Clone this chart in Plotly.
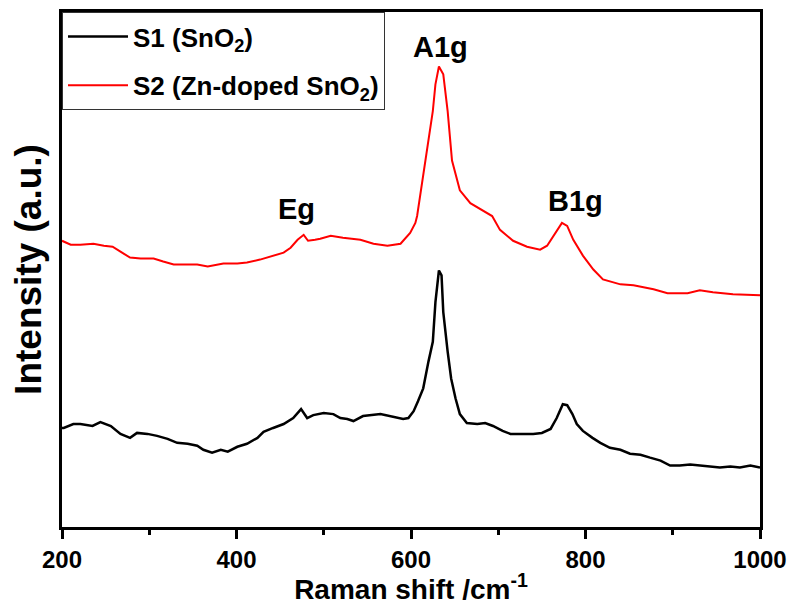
import plotly.graph_objects as go

# ---------------- data ----------------
s1_shift = [200, 202, 213, 221, 235, 244, 256, 267, 278, 286, 298, 309, 321, 332, 344, 355,
            362, 372, 382, 390, 401, 412, 424, 431, 442, 454, 465, 474, 481, 488, 500, 511,
            519, 527, 534, 545, 565, 580, 591, 597, 603, 608, 614, 620, 625, 628, 631, 632,
            635, 637, 642, 646, 651, 656, 664, 676, 685, 694, 705, 714, 725, 740, 750, 760,
            767, 774, 779, 785, 790, 797, 808, 817, 828, 840, 851, 863, 874, 886, 897, 908,
            920, 931, 943, 954, 966, 977, 989, 1000]
s1_intensity = [100, 100, 104, 104, 102, 106, 102, 94, 90, 95, 94, 92, 89, 85, 84, 82,
                78, 75, 78, 76, 81, 84, 90, 96, 100, 104, 110, 119, 110, 113, 115, 114,
                110, 109, 107, 112, 114, 111, 109, 110, 117, 127, 140, 167, 187, 227, 254, 259,
                254, 217, 177, 150, 130, 114, 105, 104, 105, 102, 97, 94, 94, 94, 95, 99,
                110, 124, 123, 114, 104, 97, 90, 85, 80, 78, 74, 73, 70, 67, 62, 62,
                63, 62, 61, 60, 61, 60, 62, 60]

s2_shift = [200, 210, 221, 236, 248, 258, 267, 278, 290, 305, 316, 328, 344, 355, 367, 374,
            385, 401, 412, 427, 442, 454, 462, 470, 477, 482, 490, 496, 508, 522, 542, 557,
            573, 588, 599, 605, 607, 614, 620, 625, 628, 632, 637, 642, 647, 656, 668, 683,
            693, 702, 717, 733, 748, 756, 763, 771, 773, 779, 786, 797, 809, 820, 840, 855,
            878, 894, 917, 931, 946, 969, 1000]
s2_intensity = [289, 285, 285, 286, 284, 283, 278, 272, 271, 271, 268, 265, 265, 265, 263, 264,
                266, 266, 267, 270, 274, 277, 282, 290, 295, 289, 290, 291, 294, 292, 290, 286,
                284, 286, 297, 307, 314, 354, 387, 420, 447, 465, 457, 420, 370, 340, 327, 319,
                314, 300, 289, 283, 280, 284, 294, 305, 307, 304, 290, 274, 260, 250, 245, 244,
                240, 236, 236, 239, 237, 235, 234]

series_names = ["S1 (SnO<sub>2</sub>)", "S2 (Zn-doped SnO<sub>2</sub>)"]
peak_labels = ["Eg", "A1g", "B1g"]
peak_label_shift = [469, 634, 788]
peak_label_intensity = [321, 485, 329]

x_ticks = [200, 400, 600, 800, 1000]
x_minor_ticks = [300, 500, 700, 900]

# ---------------- figure ----------------
FONT = "Liberation Sans, Arial, sans-serif"

fig = go.Figure()
fig.add_trace(go.Scatter(x=s1_shift, y=s1_intensity, mode="lines", name=series_names[0],
                         legendgroup="s1",
                         line=dict(color="black", width=2.5)))
fig.add_trace(go.Scatter(x=s2_shift, y=s2_intensity, mode="lines", name=series_names[1],
                         legendgroup="s2",
                         line=dict(color="#ff0000", width=2)))

for lab, xv, yv in zip(peak_labels, peak_label_shift, peak_label_intensity):
    fig.add_annotation(x=xv, y=yv, text=lab, showarrow=False,
                       font=dict(family=FONT, size=29, color="black", weight="bold"))

fig.update_layout(
    width=781, height=597,
    margin=dict(l=54, r=29, t=1, b=78),
    plot_bgcolor="white", paper_bgcolor="white",
    font=dict(family=FONT, color="black"),
    showlegend=True,
    legend=dict(x=0, y=1, xanchor="left", yanchor="top",
                bgcolor="white", bordercolor="#333333", borderwidth=1,
                font=dict(family=FONT, size=26, color="black", weight="bold"),
                itemwidth=60, tracegroupgap=12),
    xaxis=dict(range=[200, 1000], tickvals=x_ticks, ticks="outside", ticklen=9,
               tickwidth=3, tickcolor="black", showline=True, linewidth=3,
               linecolor="black", mirror=True, showgrid=False, zeroline=False,
               tickfont=dict(family=FONT, size=24, color="black", weight="bold"),
               minor=dict(tickvals=x_minor_ticks, ticks="outside", ticklen=5,
                          tickwidth=3, tickcolor="black", showgrid=False),
               title=dict(text="Raman shift /cm<sup>-1</sup>", standoff=3,
                          font=dict(family=FONT, size=28, color="black", weight="bold"))),
    yaxis=dict(range=[0, 520], showticklabels=False, ticks="", showline=True,
               linewidth=3, linecolor="black", mirror=True, showgrid=False,
               zeroline=False,
               title=dict(text="Intensity (a.u.)", standoff=14,
                          font=dict(family=FONT, size=37, color="black", weight="bold"))),
)

fig.write_html("out.html")
